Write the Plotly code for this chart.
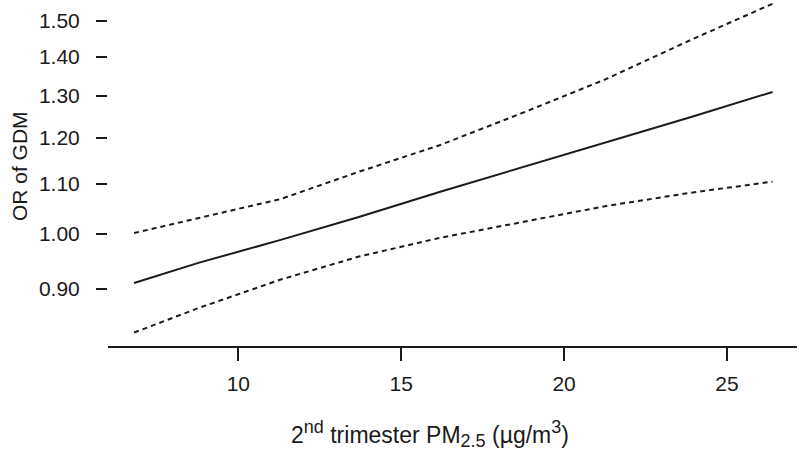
import numpy as np
import plotly.graph_objects as go

# values
pm25 = [6.8, 8.8, 11.3, 13.7, 16.2, 18.8, 21.3, 23.9, 26.4]
or_est = [0.910, 0.946, 0.988, 1.032, 1.083, 1.136, 1.191, 1.249, 1.310]
or_upper = [1.001, 1.030, 1.068, 1.125, 1.184, 1.261, 1.343, 1.447, 1.550]
or_lower = [0.828, 0.868, 0.916, 0.957, 0.992, 1.023, 1.054, 1.081, 1.104]

y_ticks = [0.90, 1.00, 1.10, 1.20, 1.30, 1.40, 1.50]
y_labels = ["0.90", "1.00", "1.10", "1.20", "1.30", "1.40", "1.50"]
x_ticks = [10, 15, 20, 25]

font = "Liberation Sans, Arial, sans-serif"
ink = "#1a1a1a"

fig = go.Figure()
for ys, dash in [(or_upper, "5px,4px"), (or_est, "solid"), (or_lower, "5px,4px")]:
    fig.add_trace(go.Scatter(x=pm25, y=ys, mode="lines",
                             line=dict(color=ink, width=2, dash=dash),
                             showlegend=False, hoverinfo="skip"))

fig.update_layout(
    width=800, height=450,
    margin=dict(l=108, r=3, t=0, b=104),
    plot_bgcolor="white", paper_bgcolor="white",
    font=dict(family=font, color=ink, size=21),
    xaxis=dict(range=[6.0, 27.15], tickvals=x_ticks, ticks="outside",
               ticklen=13, tickwidth=2, tickcolor=ink,
               showline=True, linewidth=2, linecolor=ink,
               showgrid=False, zeroline=False, ticklabelstandoff=5),
    yaxis=dict(type="log", range=[np.log10(0.807), np.log10(1.561)],
               tickvals=y_ticks, ticktext=y_labels, ticks="outside",
               ticklen=11, tickwidth=2, tickcolor=ink,
               showline=False, showgrid=False, zeroline=False,
               ticklabelstandoff=12),
)

# y axis spine only spans the tick range
fig.add_shape(type="line", xref="paper", yref="y", x0=0, x1=0,
              y0=np.log10(min(y_ticks)), y1=np.log10(max(y_ticks)),
              line=dict(color=ink, width=2))

small = '<span style="font-size:18px">{}</span>'
x_title = ("2<sup>" + small.format("nd") + "</sup> trimester PM<sub>"
           + small.format("2.5") + "</sub> (µg/m<sup>" + small.format("3") + "</sup>)")

fig.add_annotation(text="OR of GDM", xref="paper", yref="paper", x=0, y=0.52,
                   xshift=-89, textangle=-90, showarrow=False,
                   font=dict(size=21), xanchor="center", yanchor="middle")
fig.add_annotation(text=x_title, xref="paper", yref="paper", x=0.467, y=0, yshift=-88,
                   showarrow=False, font=dict(size=23),
                   xanchor="center", yanchor="middle")

# drop the default body margin so the figure sits at the page corner
fig.write_html("out.html", config={"displayModeBar": False},
               post_script="document.body.style.margin='0px';")
